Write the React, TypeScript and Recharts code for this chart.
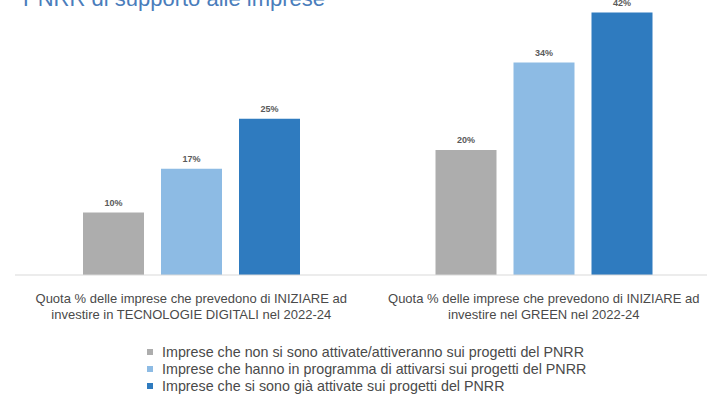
import React from "react"
import { BarChart, Bar, XAxis, YAxis, LabelList } from "recharts"

// categorie (due righe per etichetta)
const categories = [
  ["Quota % delle imprese che prevedono di INIZIARE ad", "investire in TECNOLOGIE DIGITALI nel 2022-24"],
  ["Quota % delle imprese che prevedono di INIZIARE ad", "investire nel GREEN nel 2022-24"],
]

const seriesNames = [
  "Imprese che non si sono attivate/attiveranno sui progetti del PNRR",
  "Imprese che hanno in programma di attivarsi sui progetti del PNRR",
  "Imprese che si sono già attivate sui progetti del PNRR",
]

const nonAttivate = [10, 20]
const inProgramma = [17, 34]
const giaAttivate = [25, 42]

const colors = ["#adadad", "#8dbbe4", "#2f7bbf"]

const data = categories.map((lines, i) => ({
  idx: i,
  s0: nonAttivate[i],
  s1: inProgramma[i],
  s2: giaAttivate[i],
}))

const FONT = "'Liberation Sans', Arial, sans-serif"

const CategoryTick = ({ x, y, payload }: any) => {
  const lines = categories[payload.value] || []
  return (
    <g>
      {lines.map((l, i) => (
        <text
          key={i}
          x={x}
          y={y + 20 + i * 16}
          textAnchor="middle"
          fontSize={13}
          fontFamily={FONT}
          fill="#4a4a4a"
        >
          {l}
        </text>
      ))}
    </g>
  )
}

export default function App() {
  const pct = (v: number) => `${v}%`
  return (
    <div style={{ position: "absolute", left: 0, top: 0, width: 707, height: 403, overflow: "hidden", background: "#fff" }}>
      <div
        style={{
          position: "absolute",
          left: 23,
          top: -14,
          fontFamily: FONT,
          fontSize: 22,
          color: "#4a7dbb",
          whiteSpace: "nowrap",
          zIndex: 2,
        }}
      >
        PNRR di supporto alle imprese
      </div>
      <BarChart
        width={720}
        height={403}
        data={data}
        margin={{ top: 0, right: 0, bottom: 0, left: 15 }}
        barSize={61}
        barGap={17}
      >
        <XAxis
          dataKey="idx"
          height={128}
          axisLine={{ stroke: "#d9d9d9" }}
          tickLine={false}
          tick={<CategoryTick />}
          interval={0}
        />
        <YAxis hide domain={[0, 44]} />
        {[nonAttivate, inProgramma, giaAttivate].map((_, k) => (
          <Bar key={k} dataKey={`s${k}`} fill={colors[k]} isAnimationActive={false}>
            <LabelList
              dataKey={`s${k}`}
              position="top"
              offset={7}
              formatter={pct}
              fontSize={9}
              fontWeight="bold"
              fontFamily={FONT}
              fill="#5a5a5a"
            />
          </Bar>
        ))}
      </BarChart>
      <div style={{ position: "absolute", left: 147, top: 343, fontFamily: FONT, fontSize: 14.3, color: "#4a4a4a" }}>
        {seriesNames.map((name, k) => (
          <div key={k} style={{ display: "flex", alignItems: "center", height: 17, whiteSpace: "nowrap" }}>
            <span style={{ width: 6, height: 6, background: colors[k], marginRight: 9, display: "inline-block" }} />
            {name}
          </div>
        ))}
      </div>
    </div>
  )
}
